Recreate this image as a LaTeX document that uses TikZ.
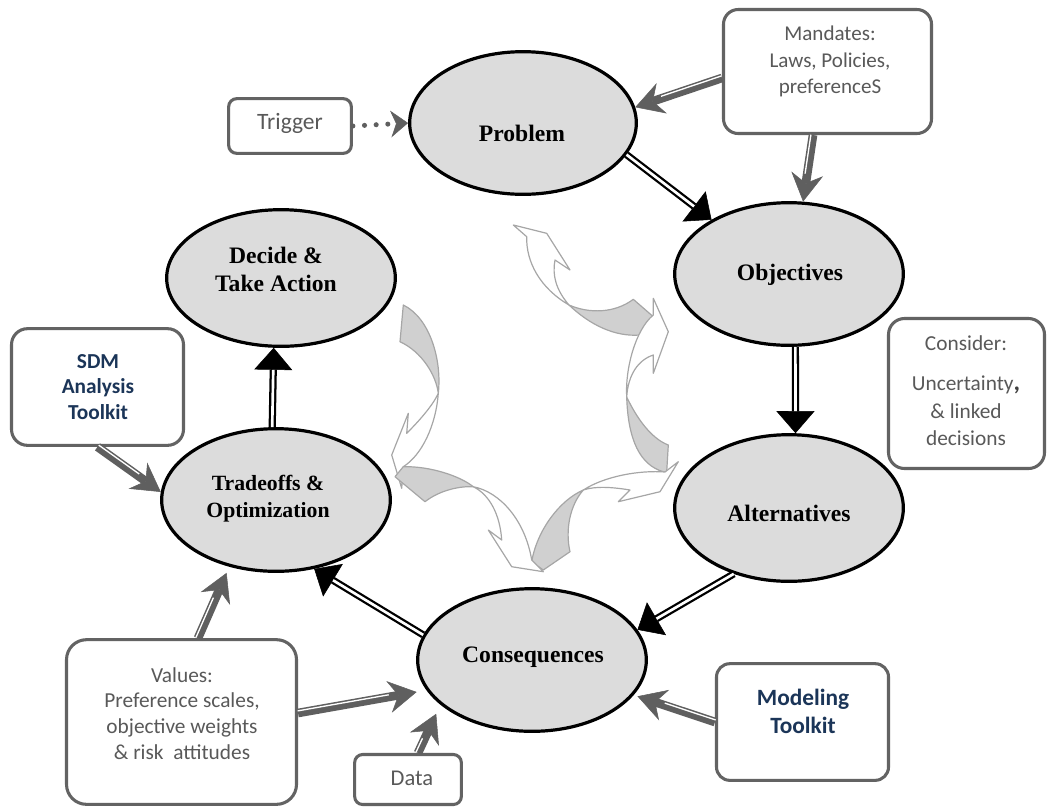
\documentclass[tikz,border=0pt]{standalone}
\usepackage{fontspec}
\setmainfont{Liberation Serif}
\newfontfamily\boxfnt{Carlito}
\usetikzlibrary{shapes.geometric,arrows.meta,calc}
\definecolor{ellfill}{HTML}{DCDCDC}
\definecolor{boxgray}{HTML}{636363}
\definecolor{txtgray}{HTML}{595959}
\definecolor{navy}{HTML}{1B3558}
\definecolor{arrgray}{HTML}{5F5F5F}
\definecolor{cycline}{HTML}{A6A6A6}
\definecolor{cycfill}{HTML}{D0D0D0}
\definecolor{commagray}{HTML}{404040}
% gray input connector: #1 extra shortening, #2 start, #3 end, #4/#5 side angles for the white stripe
\newcommand\gconn[5]{%
  \draw[gar=#1] (#2) -- (#3);
  \draw[draw=white, line width=1pt, shorten >={21pt+#1}] ($(#2)!1.6pt!#4:(#3)$) -- ($(#3)!1.6pt!#5:(#2)$);
}
\begin{document}
\begin{tikzpicture}[x=0.75pt,y=-0.75pt,
  ell/.style={ellipse, draw=black, line width=2.4pt, fill=ellfill, inner sep=0pt},
  elltxt/.style={font=\fontsize{17.7}{21}\selectfont\bfseries, align=center, inner sep=0pt, text=black},
  gbox/.style={draw=boxgray, line width=2.3pt, fill=white, inner sep=0pt},
  gtxt/.style={font=\boxfnt\fontsize{16}{19.3}\selectfont, text=txtgray, align=center, inner sep=0pt},
  ntxt/.style={font=\boxfnt\bfseries\fontsize{16}{19.1}\selectfont, text=navy, align=center, inner sep=0pt},
  blk/.style={draw=black, line width=5.4pt, -{Triangle[length=16.5pt,width=28.5pt,line width=0.4pt]},
     postaction={draw=white, line width=2pt, -, shorten >=16.5pt}},
  gar/.style={draw=arrgray, line width=6.5pt, shorten >=#1, -{Stealth[length=21pt,width=24pt,inset=7pt,line width=0.4pt]}},
  gar/.default=0pt,
  dotar/.style={draw=arrgray, line width=3.8pt, line cap=round, dash pattern=on 0pt off 8.75pt,
     -{Stealth[length=13pt,width=20pt,inset=4pt,line width=0.4pt]}},
  cycw/.style={draw=cycline, line width=0.9pt, line join=round, fill=white},
  cycg/.style={draw=cycline, line width=0.9pt, line join=round, fill=cycfill}]
\useasboundingbox (0,0) rectangle (1048,808);

% central cycle of curved arrows
% E (left)
\path[cycw] (438.3,393.3) .. controls (436,425) and (422,455) .. (403.3,466.7) -- (401.7,488.3) -- (391.7,455) -- (408.3,413.3) -- (406.7,433.3) .. controls (420,420) and (433,405) .. (438.3,393.3) -- cycle;
\path[cycg] (403.3,305) .. controls (430,318) and (442,360) .. (438.3,393.3) .. controls (436,375) and (422,352) .. (400,341.7) -- cycle;
% A (top)
\path[cycw] (569,305) .. controls (556,290) and (552,275) .. (555,260) -- (570,270) -- (546.7,233.3) -- (513.3,225) -- (526.7,236.7) .. controls (526,262) and (540,288) .. (569,305) -- cycle;
\path[cycg] (569,305) .. controls (590,314) and (615,313) .. (633.3,299.3) -- (653.3,316.7) -- (640,335) .. controls (615,337) and (590,325) .. (569,305) -- cycle;
% B (right)
\path[cycw] (626.7,397) .. controls (625,370) and (635,330) .. (653.3,315) -- (653.3,298.3) -- (668.3,331.7) -- (653.3,373.3) -- (653.3,355) .. controls (638,360) and (628,375) .. (626.7,397) -- cycle;
\path[cycg] (626.7,397) .. controls (640,425) and (655,440) .. (668.3,445) -- (666.7,471.7) -- (663.3,471.7) .. controls (640,465) and (628,440) .. (626.7,397) -- cycle;
% C (lower right)
\path[cycw] (583.3,490) .. controls (605,476) and (640,470) .. (665,472) -- (678.3,461.7) -- (660,491.7) -- (618.3,501.7) -- (630,490) .. controls (612,487) and (595,486) .. (583.3,490) -- cycle;
\path[cycg] (583.3,490) .. controls (560,500) and (537,530) .. (531.7,561.7) -- (543.3,570) -- (570,551.7) .. controls (565,530) and (570,505) .. (583.3,490) -- cycle;
% D (bottom)
\path[cycw] (473.3,486.7) .. controls (500,492) and (525,520) .. (531.7,560) -- (543.3,571.7) -- (511.7,566.7) -- (488.3,530) -- (501.7,540) .. controls (500,515) and (490,495) .. (473.3,486.7) -- cycle;
\path[cycg] (473.3,486.7) .. controls (460,476) and (430,466) .. (403.3,466.7) -- (395,476.7) -- (425,501.7) .. controls (440,490) and (460,486) .. (473.3,486.7) -- cycle;

% ellipses
\node[ell, minimum width=170pt, minimum height=107pt] (prob) at (523,123) {};
\node[ell, minimum width=171.5pt, minimum height=107pt] (obj) at (789,274) {};
\node[ell, minimum width=171.5pt, minimum height=110pt] (alt) at (789,508) {};
\node[ell, minimum width=171.5pt, minimum height=107pt] (cons) at (532,660) {};
\node[ell, minimum width=171.5pt, minimum height=102.5pt] (dec) at (281,278) {};
\node[ell, minimum width=171.5pt, minimum height=107pt] (trade) at (276,500) {};

\node[elltxt] (tprob) at (522,133) {Problem};
\node[elltxt] (tobj) at (790,275) {Objectives};
\node[elltxt] (talt) at (789,513) {Alternatives};
\node[elltxt] (tcons) at (533,657) {Consequences};
\node[elltxt] (tdec) at (276,269) {Decide \&\\Take Action};
\node[elltxt, font=\fontsize{16.3}{20.3}\selectfont\bfseries] (ttrade) at (268,498.5) {Tradeoffs \&\\Optimization};

% boxes
\node[gbox, rounded corners=6pt, minimum width=92pt, minimum height=41pt] (trig) at (290,126) {};
\node[gbox, rounded corners=11pt, minimum width=156pt, minimum height=93pt] (mand) at (827.5,71.5) {};
\node[gbox, rounded corners=12pt, minimum width=117pt, minimum height=112.5pt] (consd) at (966.5,393.5) {};
\node[gbox, rounded corners=12pt, minimum width=129pt, minimum height=87.5pt] (sdm) at (97.5,387) {};
\node[gbox, rounded corners=15pt, minimum width=172.5pt, minimum height=123.5pt] (val) at (181.5,722) {};
\node[gbox, rounded corners=6pt, minimum width=80pt, minimum height=37.5pt] (data) at (408,779.5) {};
\node[gbox, rounded corners=10pt, minimum width=129pt, minimum height=87.5pt] (model) at (802.5,722) {};

\node[gtxt, font=\boxfnt\fontsize{17.6}{21}\selectfont] (ttrig) at (290,123) {Trigger};
\node[gtxt, font=\boxfnt\fontsize{15.8}{19.9}\selectfont] (tmand) at (830,61.5) {Mandates:\\Laws, Policies,\\preferenceS};
\node[gtxt, font=\boxfnt\fontsize{16}{20.6}\selectfont] (tconsd) at (966,391) {Consider:\\[9.4pt]Uncertainty{\color{commagray}\bfseries\fontsize{19}{19}\selectfont,}\\\& linked\\decisions};
\node[ntxt] (tsdm) at (98,387) {SDM\\Analysis\\Toolkit};
\node[gtxt] (tval) at (182,713.5) {Values:\\Preference scales,\\objective weights\\\& risk\ \ attitudes};
\node[gtxt, font=\boxfnt\fontsize{16.9}{20}\selectfont] (tdata) at (412,778) {Data};
\node[ntxt, font=\boxfnt\bfseries\fontsize{17.5}{21}\selectfont] (tmodel) at (803,711) {Modeling\\Toolkit};

% black cycle connectors
\draw[blk] (prob.-17) -- (obj.145.5);
\draw[blk] (obj.-85) -- (alt.85);
\draw[blk] (alt.230) -- (cons.16.8);
\draw[blk] (cons.167) -- (trade.-61);
\draw[blk] (trade.93) -- (dec.-96.5);

% gray input connectors
\coordinate (mw) at ($(mand.west)+(0,6.5)$);
\coordinate (ms) at ($(mand.south)+(-14.5,0)$);
\coordinate (vn) at ($(val.north)+(16.5,0)$);
\coordinate (ve) at ($(val.east)+(0,-9)$);
\coordinate (dn) at ($(data.north)+(10,0)$);
\coordinate (sd) at (sdm.south);
\coordinate (mo) at (model.west);
\draw[dotar] (trig.east) -- (prob.180);
\gconn{0pt}{mw}{prob.8}{-90}{90}
\gconn{0pt}{ms}{obj.79}{-90}{90}
\gconn{0pt}{sd}{trade.176}{90}{-90}
\gconn{5pt}{vn}{trade.235.3}{90}{-90}
\gconn{7.5pt}{ve}{cons.196}{90}{-90}
\gconn{7.5pt}{dn}{cons.206.8}{90}{-90}
\gconn{3pt}{mo}{cons.-19.5}{-90}{90}
\end{tikzpicture}
\end{document}
